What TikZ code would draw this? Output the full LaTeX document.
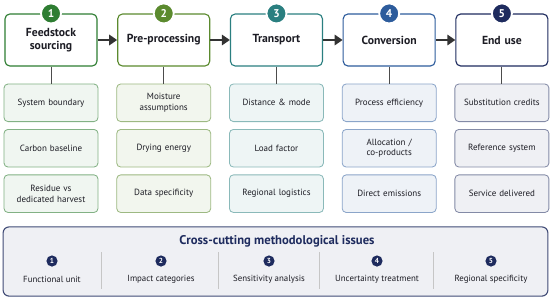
\documentclass[tikz,border=0pt]{standalone}
\usepackage{fontspec}
\setmainfont{PT Sans}
\usetikzlibrary{arrows.meta, positioning, calc, backgrounds}
\definecolor{colorA}{HTML}{2E7D32}
\definecolor{colorB}{HTML}{5B8A2E}
\definecolor{colorC}{HTML}{2A7F80}
\definecolor{colorD}{HTML}{2D5C9C}
\definecolor{colorE}{HTML}{1E2B5E}
\definecolor{arrowcol}{HTML}{333333}
\definecolor{textcol}{HTML}{1C1C24}

\begin{document}
\begin{tikzpicture}[
  x=0.25mm, y=-0.25mm,
  node distance=4.25mm and 4.9mm,
  every node/.style={text=textcol},
  stagebox/.style={
    draw, fill=white, rounded corners=1.2mm,
    minimum height=13mm, text width=21mm, inner xsep=1mm,
    align=center, line width=0.8pt,
    font=\fontsize{8.3}{9.6}\selectfont\bfseries
  },
  itembox/.style={
    draw, rounded corners=1mm,
    minimum height=9.4mm, text width=21.5mm, inner xsep=1mm,
    align=center, line width=0.6pt,
    font=\fontsize{6.4}{7.4}\selectfont
  },
  itemA/.style={itembox, fill=colorA!7, draw=colorA!60},
  itemB/.style={itembox, fill=colorB!8, draw=colorB!60},
  itemC/.style={itembox, fill=colorC!8, draw=colorC!55},
  itemD/.style={itembox, fill=colorD!8, draw=colorD!55},
  itemE/.style={itembox, fill=colorE!7, draw=colorE!55},
  badge/.style={
    circle, draw=white, line width=1.3pt, inner sep=0pt,
    minimum size=5mm, text=white,
    font=\fontsize{8}{8}\selectfont\bfseries
  },
  minibadge/.style={
    circle, fill=colorE, inner sep=0pt, minimum size=2.8mm,
    text=white, font=\fontsize{5.2}{5.2}\selectfont\bfseries
  },
  issue/.style={font=\fontsize{6.3}{7.3}\selectfont},
  arrow/.style={-{Triangle[length=2mm,width=2.6mm]}, line width=1.7pt, color=arrowcol},
  link/.style={line width=0.6pt, color=gray!60!black},
  divider/.style={line width=0.5pt, color=gray!45},
  panel/.style={draw=colorE!85, fill=colorE!7, rounded corners=1.5mm,
                line width=0.8pt, minimum width=136.2mm, minimum height=17.3mm}
]
\useasboundingbox (0,0) rectangle (550,298);

%% ── Stage row (top) ──────────────────────────────────────────
\node[stagebox, draw=colorA] (feed) at (51,40) {Feedstock\\sourcing};
\node[stagebox, draw=colorB, right=of feed] (prep) {Pre-processing};
\node[stagebox, draw=colorC, right=of prep] (trans) {Transport};
\node[stagebox, draw=colorD, right=of trans] (conv) {Conversion};
\node[stagebox, draw=colorE, right=of conv] (enduse) {End use};

%% numbered badges on the top edges
\node[badge, fill=colorA] (numA) at (feed.north)   {1};
\node[badge, fill=colorB] (numB) at (prep.north)   {2};
\node[badge, fill=colorC] (numC) at (trans.north)  {3};
\node[badge, fill=colorD] (numD) at (conv.north)   {4};
\node[badge, fill=colorE] (numE) at (enduse.north) {5};

%% ── Stage arrows ─────────────────────────────────────────────
\draw[arrow] (feed)  -- (prep);
\draw[arrow] (prep)  -- (trans);
\draw[arrow] (trans) -- (conv);
\draw[arrow] (conv)  -- (enduse);

%% ── Issue boxes under each stage ────────────────────────────
\node[itemA, below=of feed] (feedA) {System boundary};
\node[itemA, below=1.75mm of feedA] (feedB) {Carbon baseline};
\node[itemA, below=1.75mm of feedB] (feedC) {Residue vs\\dedicated harvest};

\node[itemB, below=of prep] (prepA) {Moisture\\assumptions};
\node[itemB, below=1.75mm of prepA] (prepB) {Drying energy};
\node[itemB, below=1.75mm of prepB] (prepC) {Data specificity};

\node[itemC, below=of trans] (transA) {Distance \& mode};
\node[itemC, below=1.75mm of transA] (transB) {Load factor};
\node[itemC, below=1.75mm of transB] (transC) {Regional logistics};

\node[itemD, below=of conv] (convA) {Process efficiency};
\node[itemD, below=1.75mm of convA] (convB) {Allocation /\\co-products};
\node[itemD, below=1.75mm of convB] (convC) {Direct emissions};

\node[itemE, below=of enduse] (endA) {Substitution credits};
\node[itemE, below=1.75mm of endA] (endB) {Reference system};
\node[itemE, below=1.75mm of endB] (endC) {Service delivered};

%% stage-to-issue links
\draw[link] (feed)   -- (feedA);
\draw[link] (prep)   -- (prepA);
\draw[link] (trans)  -- (transA);
\draw[link] (conv)   -- (convA);
\draw[link] (enduse) -- (endA);

%% ── Cross-cutting panel (bottom) ────────────────────────────
\node[panel] (cross) at (275.5,261.5) {};
\node[font=\fontsize{9}{10}\selectfont\bfseries, text=colorE]
      (crosstitle) at (277,241) {Cross-cutting methodological issues};

\node[minibadge] (issA) at (52,261)  {1};
\node[minibadge] (issB) at (161,261) {2};
\node[minibadge] (issC) at (269,261) {3};
\node[minibadge] (issD) at (377,261) {4};
\node[minibadge] (issE) at (491,261) {5};

\node[issue] (labA) at (52,279)  {Functional unit};
\node[issue] (labB) at (161,279) {Impact categories};
\node[issue] (labC) at (269,279) {Sensitivity analysis};
\node[issue] (labD) at (377,279) {Uncertainty treatment};
\node[issue] (labE) at (491,279) {Regional specificity};

\draw[divider] (101,252) -- (101,289);
\draw[divider] (218,252) -- (218,289);
\draw[divider] (319,252) -- (319,289);
\draw[divider] (433,252) -- (433,289);

\end{tikzpicture}
\end{document}
